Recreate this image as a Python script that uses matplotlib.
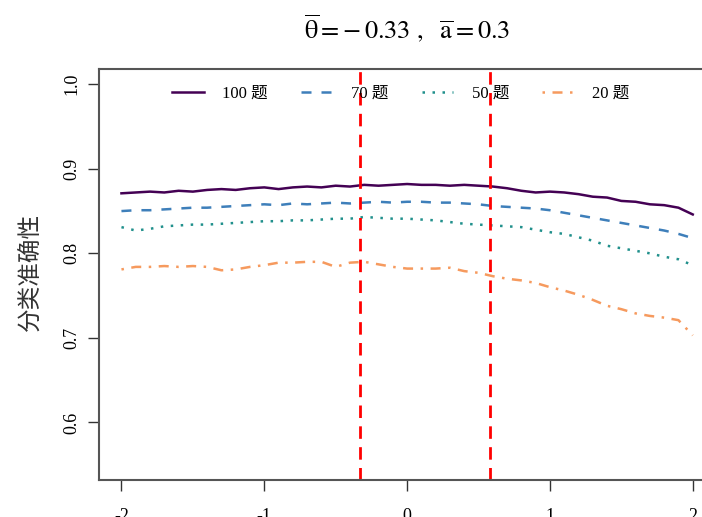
import matplotlib
matplotlib.use("Agg")
import matplotlib.pyplot as plt
import numpy as np

# ability grid (-2 .. 2, step 0.1)
theta = np.round(np.arange(-2.0, 2.01, 0.1), 2)

acc_100 = [0.871, 0.872, 0.873, 0.872, 0.874, 0.873, 0.875, 0.876, 0.875, 0.877,
           0.878, 0.876, 0.878, 0.879, 0.878, 0.880, 0.879, 0.881, 0.880, 0.881,
           0.882, 0.881, 0.881, 0.880, 0.881, 0.880, 0.879, 0.877, 0.874, 0.872,
           0.873, 0.872, 0.870, 0.867, 0.866, 0.862, 0.861, 0.858, 0.857, 0.854,
           0.846]
acc_70 = [0.850, 0.851, 0.851, 0.852, 0.853, 0.854, 0.854, 0.855, 0.856, 0.857,
          0.858, 0.857, 0.859, 0.858, 0.859, 0.860, 0.859, 0.860, 0.861, 0.860,
          0.861, 0.861, 0.860, 0.860, 0.859, 0.858, 0.856, 0.855, 0.854, 0.853,
          0.851, 0.848, 0.845, 0.842, 0.839, 0.836, 0.833, 0.830, 0.827, 0.823,
          0.818]
acc_50 = [0.831, 0.827, 0.829, 0.832, 0.833, 0.834, 0.834, 0.835, 0.836, 0.837,
          0.838, 0.838, 0.839, 0.839, 0.840, 0.841, 0.841, 0.843, 0.842, 0.841,
          0.841, 0.840, 0.839, 0.837, 0.835, 0.834, 0.833, 0.832, 0.831, 0.828,
          0.825, 0.823, 0.819, 0.815, 0.809, 0.806, 0.803, 0.800, 0.796, 0.793,
          0.786]
acc_20 = [0.781, 0.784, 0.784, 0.785, 0.784, 0.785, 0.784, 0.780, 0.781, 0.784,
          0.786, 0.789, 0.789, 0.790, 0.790, 0.784, 0.789, 0.790, 0.787, 0.784,
          0.782, 0.782, 0.782, 0.783, 0.779, 0.777, 0.773, 0.770, 0.768, 0.765,
          0.760, 0.756, 0.751, 0.745, 0.738, 0.734, 0.729, 0.726, 0.724, 0.721,
          0.703]

labels = ["100 题", "70 题", "50 题", "20 题"]
colors = ["#440154", "#3E7FBA", "#21908C", "#F69A5E"]
styles = ["-", (0, (4, 4)), (0, (1, 3)), (0, (1, 3, 4, 3))]
cut_points = [-0.33, 0.58]

serif = ["Liberation Serif", "Noto Sans CJK SC"]
plt.rcParams["font.family"] = serif
plt.rcParams["mathtext.fontset"] = "stix"

fig = plt.figure(figsize=(7.02, 5.17), dpi=100)
ax = fig.add_axes([98.6 / 702, 37 / 517, 617 / 702, 411 / 517])

for y, lab, c, ls in zip([acc_100, acc_70, acc_50, acc_20], labels, colors, styles):
    ax.plot(theta, y, color=c, linestyle=ls, lw=1.8, label=lab)

for cp in cut_points:
    ax.axvline(cp, color="red", linestyle=(0, (4.5, 3)), lw=2)

ax.set_xlim(-2.16, 2.16)
ax.set_ylim(0.532, 1.018)
ax.set_xticks([-2, -1, 0, 1, 2])
ax.set_xticklabels(["-2", "-1", "0", "1", "2"])
ax.set_yticks([0.6, 0.7, 0.8, 0.9, 1.0])
ax.set_yticklabels(["0.6", "0.7", "0.8", "0.9", "1.0"], rotation=90, va="center")
ax.tick_params(axis="both", length=8, width=1, labelsize=13, color="#333333")
ax.tick_params(axis="x", pad=12)
ax.tick_params(axis="y", pad=5)
for s in ax.spines.values():
    s.set_color("#555555")
    s.set_linewidth(1.5)

ax.legend(loc="upper center", bbox_to_anchor=(0.49, 0.995), ncol=4, frameon=False,
          fontsize=12, handlelength=1.9, handletextpad=1.1, columnspacing=2.0)

fig.text(30 / 702, 0.474, "分类准确性", rotation=90, ha="center", va="center",
         fontsize=17, color="#333333")
fig.text(407 / 702, 1 - 28 / 517,
         r"$\overline{\mathrm{\theta}} = -\,0.33\ ,\ \ \overline{\mathrm{a}} = 0.3$",
         ha="center", va="center", fontsize=19)

fig.savefig("out.png", dpi=100)
